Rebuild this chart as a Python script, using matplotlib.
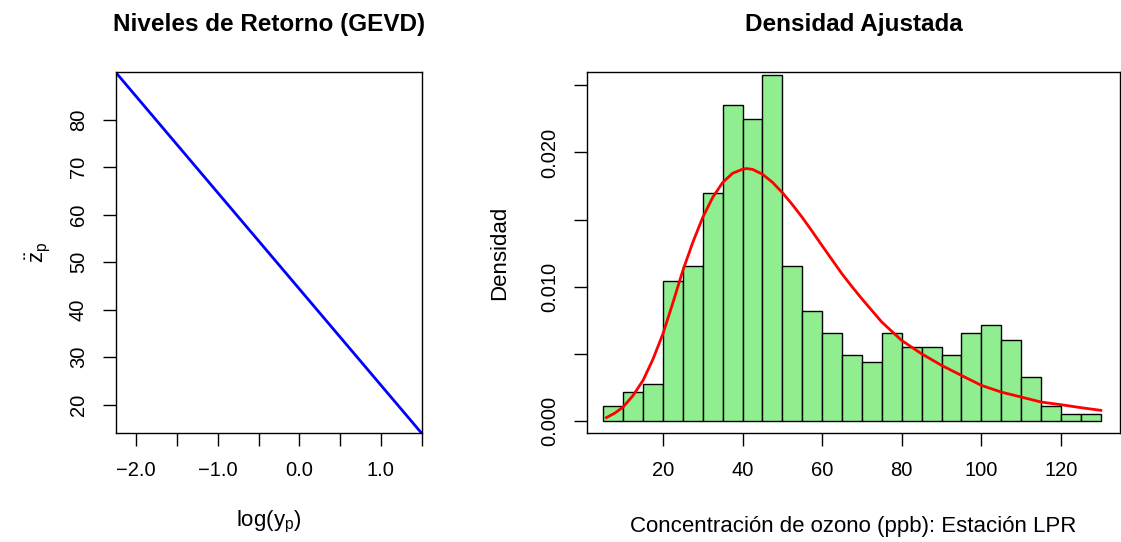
import matplotlib
matplotlib.use("Agg")
import matplotlib.pyplot as plt
import numpy as np

plt.rcParams['font.family'] = ['Liberation Sans', 'DejaVu Sans']

# ---- Left panel data: return levels ----
ret_x = [-2.25, 1.5]
ret_y = [90.0, 14.0]
left_xticks = [-2.0, -1.5, -1.0, -0.5, 0.0, 0.5, 1.0, 1.5]
left_xlabels = ['\u22122.0', '', '\u22121.0', '', '0.0', '', '1.0', '']
left_yticks = [20, 30, 40, 50, 60, 70, 80]

# ---- Right panel data: histogram (bin width 5, 5..130) ----
bin_edges = [5, 10, 15, 20, 25, 30, 35, 40, 45, 50, 55, 60, 65, 70, 75,
             80, 85, 90, 95, 100, 105, 110, 115, 120, 125, 130]
densities = [0.00110, 0.00219, 0.00274, 0.01041, 0.01151, 0.01699, 0.02356,
             0.02247, 0.02575, 0.01151, 0.00822, 0.00658, 0.00493, 0.00438,
             0.00658, 0.00548, 0.00548, 0.00493, 0.00658, 0.00712, 0.00603,
             0.00329, 0.00110, 0.00055, 0.00055]

# fitted density curve
curve_x = [5.8, 8, 10, 12.5, 15, 17.5, 20, 22.5, 25, 27.5, 30, 32.5, 35, 37.5,
           40, 41, 42.5, 45, 47.5, 50, 52.5, 55, 57.5, 60, 62.5, 65, 67.5, 70,
           75, 80, 85, 90, 95, 100, 105, 110, 115, 120, 125, 130]
curve_y = [0.00025, 0.00060, 0.00104, 0.00190, 0.00302, 0.00460, 0.00649,
           0.00880, 0.01120, 0.01330, 0.01516, 0.01665, 0.01776, 0.01845,
           0.01875, 0.01880, 0.01874, 0.01838, 0.01778, 0.01701, 0.01612,
           0.01516, 0.01412, 0.01305, 0.01200, 0.01095, 0.01000, 0.00909,
           0.00736, 0.00599, 0.00500, 0.00414, 0.00339, 0.00265, 0.00215,
           0.00178, 0.00141, 0.00121, 0.00099, 0.00079]
right_xticks = [20, 40, 60, 80, 100, 120]
right_yticks = [0.0, 0.005, 0.010, 0.015, 0.020, 0.025]
right_ylabels = ['0.000', '', '0.010', '', '0.020', '']

W, H = 1121, 542
fig = plt.figure(figsize=(W / 100, H / 100), dpi=100)

def axes_px(l, r, t, b):
    return fig.add_axes([l / W, 1 - b / H, (r - l) / W, (b - t) / H])

FS = 14.5
FL = 16
FT = 17.5
ax1 = axes_px(115.7, 421.7, 72.3, 433.3)
ax1.plot(ret_x, ret_y, color='#0000ff', lw=2.0, solid_capstyle='butt')
ax1.set_xlim(-2.25, 1.5)
ax1.set_ylim(14.0, 90.0)
ax1.set_xticks(left_xticks)
ax1.set_xticklabels(left_xlabels)
ax1.set_yticks(left_yticks)
ax1.set_yticklabels([str(v) for v in left_yticks], rotation=90, va='center')
ax1.set_title('Niveles de Retorno (GEVD)', fontsize=FT, fontweight='bold', pad=30)
ax1.set_xlabel(r'log(y$_\mathregular{p}$)', fontsize=FL)
ax1.xaxis.set_label_coords(0.5, -0.245)
ax1.xaxis.label.set_va('center')
ax1.set_ylabel(r'$\ddot{\mathregular{z}}_\mathregular{p}$', fontsize=FL)
ax1.yaxis.set_label_coords(-0.254, 0.5)
ax1.yaxis.label.set_va('center')

ax2 = axes_px(587.3, 1119.5, 72.3, 433.3)
widths = np.diff(bin_edges)
ax2.bar(bin_edges[:-1], densities, width=widths, align='edge',
        color='#90ee90', edgecolor='black', linewidth=1.0)
ax2.plot(curve_x, curve_y, color='#ff0000', lw=2.0)
ax2.set_xlim(1.0, 134.7)
ax2.set_ylim(-0.00092, 0.02597)
ax2.set_xticks(right_xticks)
ax2.set_xticklabels([str(v) for v in right_xticks])
ax2.set_yticks(right_yticks)
ax2.set_yticklabels(right_ylabels, rotation=90, va='center')
ax2.set_title('Densidad Ajustada', fontsize=FT, fontweight='bold', pad=30)
ax2.set_xlabel('Concentración de ozono (ppb): Estación LPR', fontsize=FL)
ax2.xaxis.set_label_coords(0.5, -0.257)
ax2.xaxis.label.set_va('center')
ax2.set_ylabel('Densidad', fontsize=FL)
ax2.yaxis.set_label_coords(-0.164, 0.5)
ax2.yaxis.label.set_va('center')

for ax in (ax1, ax2):
    for s in ax.spines.values():
        s.set_linewidth(1.0)
    ax.tick_params(direction='out', length=9.5, width=1.0, labelsize=FS, pad=10.5)

fig.savefig('out.png', dpi=100)
